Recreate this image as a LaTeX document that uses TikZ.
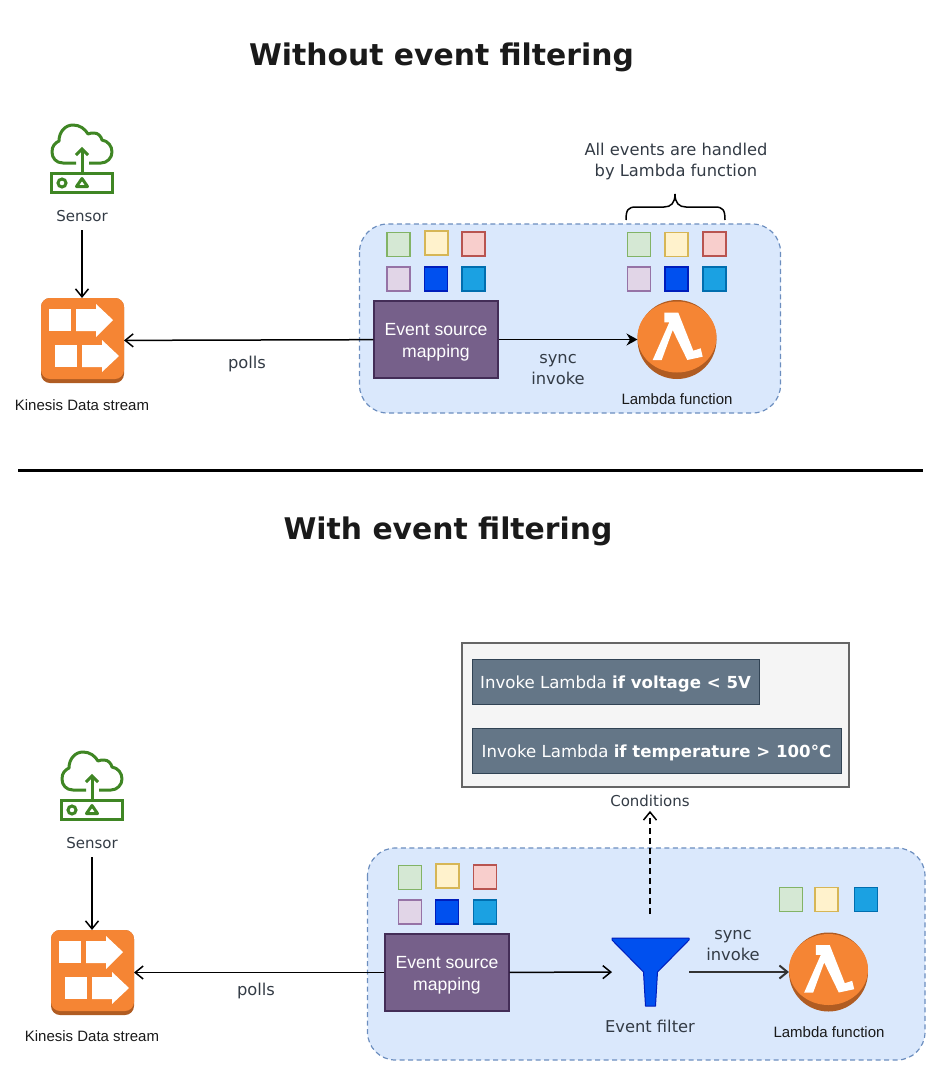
\documentclass[tikz,border=0pt]{standalone}
\usepackage{fontspec}
\setmainfont{Liberation Sans}
\newfontfamily\uifont{DejaVu Sans}
\usetikzlibrary{arrows.meta}
\definecolor{awsorange}{HTML}{F58534}
\definecolor{awsbrown}{HTML}{B05C22}
\definecolor{awsgreen}{HTML}{3F8624}
\definecolor{inktext}{HTML}{1A1A1A}
\definecolor{greytext}{HTML}{333B45}
\definecolor{mapfill}{HTML}{76608A}
\definecolor{mapedge}{HTML}{432D57}
\definecolor{rulefill}{HTML}{647687}
\definecolor{ruleedge}{HTML}{314354}
\definecolor{panelblue}{HTML}{DAE8FC}
\definecolor{paneledge}{HTML}{6C8EBF}
\definecolor{evgreenL}{HTML}{D5E8D4}
\definecolor{evgreenD}{HTML}{82B366}
\definecolor{evyellowL}{HTML}{FFF2CC}
\definecolor{evyellowD}{HTML}{D6B656}
\definecolor{evredL}{HTML}{F8CECC}
\definecolor{evredD}{HTML}{B85450}
\definecolor{evpurpleL}{HTML}{E1D5E7}
\definecolor{evpurpleD}{HTML}{9673A6}
\definecolor{evblueL}{HTML}{0050EF}
\definecolor{evblueD}{HTML}{001DBC}
\definecolor{evcyanL}{HTML}{1BA1E2}
\definecolor{evcyanD}{HTML}{006EAF}
\newcommand{\lowertext}[1]{\raisebox{-7pt}[0pt][0pt]{#1}}
\tikzset{
  titletext/.style={text=inktext,font=\uifont\bfseries\fontsize{29.8}{34}\selectfont},
  uitext/.style={text=greytext,align=center,font=\uifont\fontsize{16.3}{21}\selectfont},
  smalltext/.style={text=greytext,font=\uifont\fontsize{15}{18}\selectfont},
  arialtext/.style={text=inktext,font=\fontsize{15}{18}\selectfont},
  iconbox/.style={inner sep=0pt,outer sep=0pt,minimum width=83pt,minimum height=85pt},
  lambdabox/.style={circle,inner sep=0pt,outer sep=0pt,minimum size=79pt},
  funnelbox/.style={inner sep=0pt,outer sep=0pt,minimum width=77pt,minimum height=68pt},
  panelbox/.style={draw=paneledge,fill=panelblue,line width=1.2pt,dash pattern=on 5pt off 3.5pt,rounded corners=28pt},
  mapbox/.style={draw=mapedge,fill=mapfill,line width=1.4pt,text=white,align=center,
    minimum width=124pt,minimum height=77pt,inner sep=0pt,font=\fontsize{17.6}{22}\selectfont},
  rulebox/.style={draw=ruleedge,fill=rulefill,line width=1pt,text=white,inner sep=0pt,
    minimum height=45pt,font=\uifont\fontsize{16.6}{20}\selectfont},
  evsq/.style={line width=1.5pt,minimum width=23pt,minimum height=24pt,inner sep=0pt},
  evgreen/.style={evsq,draw=evgreenD,fill=evgreenL},
  evyellow/.style={evsq,draw=evyellowD,fill=evyellowL},
  evred/.style={evsq,draw=evredD,fill=evredL},
  evpurple/.style={evsq,draw=evpurpleD,fill=evpurpleL},
  evblue/.style={evsq,draw=evblueD,fill=evblueL},
  evcyan/.style={evsq,draw=evcyanD,fill=evcyanL},
  pics/sensoricon/.style={code={
    \draw[awsgreen,line width=3pt,line join=round]
      (-6,5) -- (-19,5) .. controls (-26,5) and (-30,0) .. (-30,-6)
      .. controls (-30,-12) and (-27,-15) .. (-23,-17)
      .. controls (-23,-26) and (-17,-33) .. (-9,-33)
      .. controls (-2,-33) and (3,-29) .. (6,-24)
      .. controls (8,-25) and (10,-25) .. (12,-25)
      .. controls (16,-25) and (19,-22) .. (20,-18)
      .. controls (26,-17) and (30,-12) .. (30,-6)
      .. controls (30,0) and (25,5) .. (19,5) -- (7,5);
    \draw[awsgreen,line width=3pt] (-30.5,15) rectangle (30.5,34.5);
    \draw[awsgreen,line width=3pt] (-20,25) circle (4);
    \draw[awsgreen,line width=3pt,line join=round] (0,20.5) -- (-5.5,28.5) -- (5.5,28.5) -- cycle;
    \draw[awsgreen,line width=3pt] (0,15) -- (0,-9);
    \draw[awsgreen,line width=3pt] (-6,-3) -- (0,-9) -- (6,-3);
  }},
  pics/kinesisicon/.style={code={
    \fill[awsbrown,rounded corners=9pt] (-41.5,-42.5) rectangle (41.5,42.5);
    \fill[awsorange,rounded corners=9pt] (-41.5,-42.5) rectangle (41.5,38.5);
    \fill[white] (-33.5,-31.5) rectangle (-11.5,-9.5);
    \fill[white] (-6.5,-31.5) -- (13.5,-31.5) -- (13.5,-36.5) -- (30.5,-20.5)
      -- (13.5,-3.5) -- (13.5,-9.5) -- (-6.5,-9.5) -- cycle;
    \fill[white] (-27.5,4.5) rectangle (-5.5,26.5);
    \fill[white] (-0.5,4.5) -- (19.5,4.5) -- (19.5,-0.5) -- (36.5,15.5)
      -- (19.5,31.5) -- (19.5,26.5) -- (-0.5,26.5) -- cycle;
  }},
  pics/lambdaicon/.style={code={
    \fill[awsbrown] (0,0) circle (39.5);
    \fill[awsorange] (0,-2.5) ellipse (39.5 and 35.5);
    \fill[white] (-12.7,-26.8) -- (1.3,-26.8) -- (16.3,11.2) -- (23.7,8.8) -- (25.7,17.2)
      -- (10.3,20.5) -- (-4.3,-9.5) -- (-15.3,20.5) -- (-24.3,20.5) -- (-7.7,-17.2)
      -- (-12.7,-17.2) -- cycle;
  }},
  pics/funnelicon/.style={code={
    \draw[draw=evblueD,fill=evblueL,line width=1pt,line join=round]
      (-38.5,-34) -- (38.5,-34) -- (38.5,-32) -- (7,0) -- (5,34) -- (-5,34) -- (-7,0)
      -- (-38.5,-32) -- cycle;
  }},
}
\begin{document}
\begin{tikzpicture}[x=1pt,y=-1pt,>={Straight Barb[length=8pt,width=13pt]},line width=1.5pt]
  \useasboundingbox (0,0) rectangle (941,1076);

  % Titles
  \node[titletext] (titleA) at (441.5,57.5) {Without event filtering};
  \node[titletext] (titleB) at (448,531.5) {With event filtering};
  \draw[line width=3pt] (18,470) -- (923,470);

  % Top: panel
  \draw[panelbox] (359.5,224) rectangle (780.5,413);

  % Top: source events
  \node[evgreen] (aG) at (398.5,244.5) {};
  \node[evyellow] (aY) at (436.5,243) {};
  \node[evred] (aR) at (473.5,244) {};
  \node[evpurple] (aP) at (398.5,279) {};
  \node[evblue] (aB) at (436,279) {};
  \node[evcyan] (aC) at (473.5,279) {};

  % Top: handled events
  \node[evgreen] (bG) at (639,244.5) {};
  \node[evyellow] (bY) at (676.5,244.5) {};
  \node[evred] (bR) at (714.5,244) {};
  \node[evpurple] (bP) at (639,279) {};
  \node[evblue] (bB) at (676.5,279) {};
  \node[evcyan] (bC) at (714.5,279) {};

  % Top: brace
  \draw (626,220) .. controls (626,210) and (628,207) .. (636,207) -- (664,207)
    .. controls (671,207) and (675,203) .. (675,194)
    .. controls (675,203) and (679,207) .. (686,207) -- (715,207)
    .. controls (723,207) and (725,210) .. (725,220);
  \node[uitext] (allEvents) at (676,161.5) {All events are handled\\by Lambda function};

  % Top: icons
  \node[iconbox] (senA) at (82,158) {};
  \pic at (senA) {sensoricon};
  \node[smalltext] (senAlbl) at (82,216) {Sensor};
  \node[iconbox] (kinA) at (82.5,340.5) {};
  \pic at (kinA) {kinesisicon};
  \node[arialtext] (kinAlbl) at (82,405) {Kinesis Data stream};
  \node[mapbox] (mapA) at (436,339.5) {\lowertext{\begin{tabular}{@{}c@{}}Event source\\[0.5pt]mapping\end{tabular}}};
  \node[lambdabox] (lamA) at (677,339.5) {};
  \pic at (lamA) {lambdaicon};
  \node[arialtext] (lamAlbl) at (677,399) {Lambda function};
  \node[uitext] (pollsA) at (247,364) {polls};
  \node[uitext] (syncA) at (558,370) {sync\\invoke};

  % Top: arrows
  \coordinate (senAout) at (82,230);
  \draw[->] (senAout) -- (senAout |- kinA.north);
  \draw[->] (mapA) -- (kinA);
  \draw[-{Stealth[length=11pt,width=12pt]}] (mapA) -- (lamA);

  % Bottom: conditions
  \node[draw=black!60,fill=black!4,line width=1.2pt,minimum width=387pt,minimum height=144pt,inner sep=0pt]
    (conds) at (655.5,715) {};
  \node[rulebox,minimum width=287pt] (ruleA) at (615.5,681.5) {\lowertext{Invoke Lambda \textbf{if voltage < 5V}}};
  \node[rulebox,minimum width=369pt] (ruleB) at (656.5,750.5) {\lowertext{Invoke Lambda \textbf{if temperature > 100°C}}};
  \node[smalltext] (condslbl) at (650,801) {Conditions};

  % Bottom: panel
  \draw[panelbox] (367.5,848) rectangle (925,1060);

  % Bottom: source events
  \node[evgreen] (cG) at (410,877.5) {};
  \node[evyellow] (cY) at (447.5,876) {};
  \node[evred] (cR) at (485,877) {};
  \node[evpurple] (cP) at (410,912) {};
  \node[evblue] (cB) at (447,912) {};
  \node[evcyan] (cC) at (485,912) {};

  % Bottom: passed events
  \node[evgreen] (dG) at (791,899.5) {};
  \node[evyellow] (dY) at (826.5,899.5) {};
  \node[evcyan] (dC) at (866,899.5) {};

  % Bottom: icons
  \node[iconbox] (senB) at (92,785) {};
  \pic at (senB) {sensoricon};
  \node[smalltext] (senBlbl) at (92,843) {Sensor};
  \node[iconbox] (kinB) at (92.5,972.5) {};
  \pic at (kinB) {kinesisicon};
  \node[arialtext] (kinBlbl) at (92,1036) {Kinesis Data stream};
  \node[mapbox] (mapB) at (447,972.5) {\lowertext{\begin{tabular}{@{}c@{}}Event source\\[0.5pt]mapping\end{tabular}}};
  \node[funnelbox] (filt) at (650.5,972) {};
  \pic at (filt) {funnelicon};
  \node[uitext] (filtlbl) at (650,1026) {Event filter};
  \node[lambdabox] (lamB) at (828.5,972) {};
  \pic at (lamB) {lambdaicon};
  \node[arialtext] (lamBlbl) at (829,1032) {Lambda function};
  \node[uitext] (pollsB) at (256,991) {polls};
  \node[uitext] (syncB) at (733,945.5) {sync\\invoke};

  % Bottom: arrows
  \coordinate (senBout) at (92,857);
  \draw[->] (senBout) -- (senBout |- kinB.north);
  \draw[->] (mapB) -- (kinB);
  \draw[->] (mapB) -- (filt);
  \draw[->,line width=2pt,draw=black!80] (filt) -- (lamB);
  \coordinate (dashFrom) at (650,914);
  \draw[->,dash pattern=on 6pt off 4pt] (dashFrom) -- (condslbl);
\end{tikzpicture}
\end{document}
